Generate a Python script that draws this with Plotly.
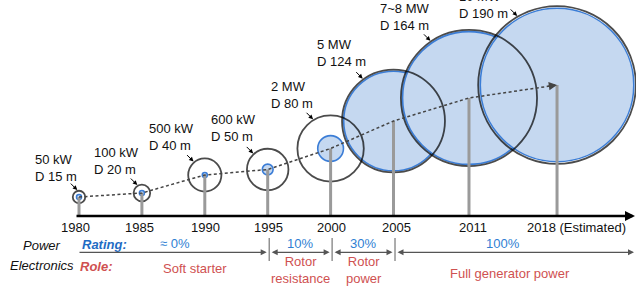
import math
import plotly.graph_objects as go

# ---------------- data ----------------
years = [1980, 1985, 1990, 1995, 2000, 2005, 2011, 2018]
year_labels = ["1980", "1985", "1990", "1995", "2000", "2005", "2011", "2018 (Estimated)"]
power_labels = ["50 kW", "100 kW", "500 kW", "600 kW", "2 MW", "5 MW", "7~8 MW", "10 MW"]
rotor_diameter_m = [15, 20, 40, 50, 80, 124, 164, 190]
power_circle_m = [6, 6, 6, 13, 31, 120, 160, 185]       # size of the blue (power) disc, in m-equivalent
trend_level = [19, 23, 41, 46.5, 67.5, 95, 118, 131]     # height of each turbine on the trend line

era_bounds = [1980, 1995, 2000, 2005]
pe_rating = ["≈ 0%", "10%", "30%", "100%"]
pe_role = ["Soft starter", "Rotor<br>resistance", "Rotor<br>power", "Full generator power"]

# ---------------- layout helpers ----------------
W, H = 636, 286
X0PX = 79.0          # pixel of year 1980
PX_PER_YEAR = 12.58
AXIS_PY = 216.0      # pixel row of the time axis
D_SCALE = 0.83       # marker diameter px per metre of rotor diameter

def px2x(px):
    return 1980 + (px - X0PX) / PX_PER_YEAR

def py2y(py):
    return AXIS_PY - py

def year_px(yr):
    return X0PX + (yr - 1980) * PX_PER_YEAR

FONT = "Liberation Sans, Arial, sans-serif"
BLACK = "#111111"
BLUE_TXT = "#2f7fd3"
BLUE_BOLD = "#1f6cc4"
RED_TXT = "#cf5151"
FILL = "#c5d8f0"
EDGE = "#3b7dd6"

fig = go.Figure()

# blue power discs
fig.add_trace(go.Scatter(
    x=years, y=trend_level, mode="markers", hoverinfo="skip",
    marker=dict(size=[d * D_SCALE for d in power_circle_m], color=FILL,
                line=dict(color=EDGE, width=1.6), opacity=1),
))
# black rotor circles
fig.add_trace(go.Scatter(
    x=years, y=trend_level, mode="markers", hoverinfo="skip",
    marker=dict(size=[d * D_SCALE for d in rotor_diameter_m], color="rgba(0,0,0,0)",
                line=dict(color="#000000", width=1.8)),
))
# stems
sx, sy = [], []
for yr, lv in zip(years, trend_level):
    sx += [yr, yr, None]
    sy += [0, lv, None]
fig.add_trace(go.Scatter(x=sx, y=sy, mode="lines", hoverinfo="skip",
                         line=dict(color="#9a9a9a", width=3)))
# dashed trend line
fig.add_trace(go.Scatter(x=years, y=trend_level, mode="lines", hoverinfo="skip",
                         line=dict(color="#444444", width=1.5, dash="3px,2.5px")))

ann = []
# trend arrow head
ann.append(dict(x=years[-1], y=trend_level[-1], xref="x", yref="y", text="",
                showarrow=True, ax=-11, ay=1.6, arrowhead=2, arrowsize=1.1,
                arrowwidth=1.5, arrowcolor="#444444"))

# time axis with arrow
ann.append(dict(x=px2x(635), y=0, ax=px2x(75), ay=0, xref="x", yref="y",
                axref="x", ayref="y", text="", showarrow=True, arrowhead=2,
                arrowsize=0.8, arrowwidth=2.5, arrowcolor="#000000"))

# tick labels
tick_label_shift_px = [-3.8, -2.7, 0.2, 0.5, 0.6, 2.7, 3.7, 19.3]
for yr, lab, sh in zip(years, year_labels, tick_label_shift_px):
    ann.append(dict(x=px2x(year_px(yr) + sh), y=py2y(227.3), xref="x", yref="y",
                    text=lab, showarrow=False, xanchor="center", yanchor="middle",
                    font=dict(family=FONT, size=13, color=BLACK)))

# turbine labels with pointer arrows
label_pos_px = [(33, 168.4), (92.3, 160.5), (146.7, 137), (209.3, 128),
                (269.3, 95.3), (315, 53.3), (377.7, 17), (456.7, 5.4)]
label_angle_deg = [104, 120, 130, 132, 121, 126, 124, 120]
for i, yr in enumerate(years):
    lx, ly = label_pos_px[i]
    ann.append(dict(x=px2x(lx), y=py2y(ly), xref="x", yref="y",
                    text=f"{power_labels[i]}<br>D {rotor_diameter_m[i]} m",
                    showarrow=False, xanchor="left", yanchor="middle", align="left",
                    font=dict(family=FONT, size=13, color=BLACK)))
    r_out = rotor_diameter_m[i] * D_SCALE / 2 + 0.9
    th = math.radians(label_angle_deg[i])
    tx = yr + r_out * math.cos(th) / PX_PER_YEAR
    ty = trend_level[i] + r_out * math.sin(th)
    ann.append(dict(x=tx, y=ty, xref="x", yref="y", text="", showarrow=True,
                    ax=-8, ay=-8, arrowhead=2, arrowsize=0.9, arrowwidth=1,
                    arrowcolor="#000000"))

# power electronics rows
ann.append(dict(x=px2x(41.5), y=py2y(245.7), xref="x", yref="y", text="<i>Power</i>",
                showarrow=False, xanchor="center", yanchor="middle",
                font=dict(family=FONT, size=13, color=BLACK)))
ann.append(dict(x=px2x(41.5), y=py2y(265), xref="x", yref="y", text="<i>Electronics</i>",
                showarrow=False, xanchor="center", yanchor="middle",
                font=dict(family=FONT, size=13, color=BLACK)))
ann.append(dict(x=px2x(80), y=py2y(244.3), xref="x", yref="y", text="<b><i>Rating:</i></b>",
                showarrow=False, xanchor="left", yanchor="middle",
                font=dict(family=FONT, size=13, color=BLUE_BOLD)))
ann.append(dict(x=px2x(78.3), y=py2y(266.7), xref="x", yref="y", text="<b><i>Role:</i></b>",
                showarrow=False, xanchor="left", yanchor="middle",
                font=dict(family=FONT, size=13, color=RED_TXT)))

era_line_py = 252.3
era_ends_px = [year_px(b) for b in era_bounds[1:]] + [635]
era_starts_px = [78] + [year_px(b) + 2.5 for b in era_bounds[1:]]
for i in range(len(era_bounds)):
    ann.append(dict(x=px2x(era_ends_px[i] - 1), y=py2y(era_line_py),
                    ax=px2x(era_starts_px[i]), ay=py2y(era_line_py),
                    xref="x", yref="y", axref="x", ayref="y", text="",
                    showarrow=True, arrowhead=2, arrowsize=1, arrowwidth=1.2,
                    arrowside="end" if i == 0 else "end+start", arrowcolor="#555555"))

rating_pos_px = [175, 300, 363, 503]
role_pos_px = [(195, 268.3), (300.5, 269.5), (364, 269.5), (510, 273.3)]
for i in range(len(era_bounds)):
    ann.append(dict(x=px2x(rating_pos_px[i]), y=py2y(243.5), xref="x", yref="y",
                    text=pe_rating[i], showarrow=False, xanchor="center", yanchor="middle",
                    font=dict(family=FONT, size=13, color=BLUE_TXT)))
    rx, ry = role_pos_px[i]
    ann.append(dict(x=px2x(rx), y=py2y(ry), xref="x", yref="y",
                    text=pe_role[i], showarrow=False, xanchor="center", yanchor="middle",
                    font=dict(family=FONT, size=13, color=RED_TXT)))

shapes = []
for b in era_bounds[1:]:
    shapes.append(dict(type="line", x0=b + 0.12, x1=b + 0.12, y0=py2y(238), y1=py2y(261),
                       xref="x", yref="y", line=dict(color="#777777", width=1.2)))

fig.update_layout(
    width=W, height=H, margin=dict(l=0, r=0, t=0, b=0),
    paper_bgcolor="white", plot_bgcolor="white", showlegend=False,
    xaxis=dict(range=[px2x(0), px2x(W)], visible=False, fixedrange=True),
    yaxis=dict(range=[py2y(H), py2y(0)], visible=False, fixedrange=True),
    annotations=ann, shapes=shapes,
)

fig.write_html("out.html", config={"displayModeBar": False},
               post_script="document.body.style.margin='0px';document.body.style.overflow='hidden';")
